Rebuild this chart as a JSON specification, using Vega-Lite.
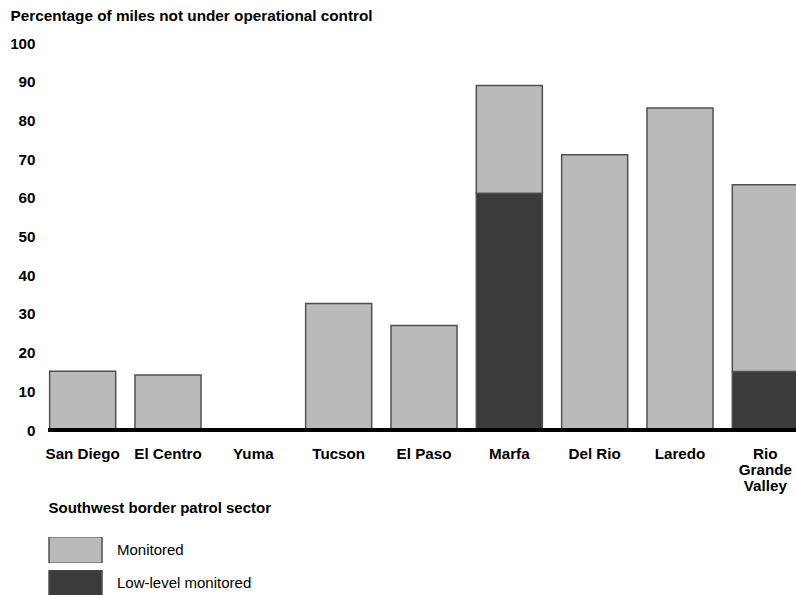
{
  "$schema": "https://vega.github.io/schema/vega-lite/v6.json",
  "width": 748,
  "height": 387,
  "autosize": {"type": "none"},
  "padding": {"left": 48, "top": 43, "right": 0, "bottom": 165},
  "background": "white",
  "config": {
    "view": {"stroke": null},
    "font": "Liberation Sans",
    "axis": {"labelFont": "Liberation Sans", "titleFont": "Liberation Sans", "labelColor": "black", "titleColor": "black", "labelOverlap": false}
  },
  "data": {
    "values": [
      {"sector": "San Diego", "status": "Monitored", "pct": 15.2},
      {"sector": "El Centro", "status": "Monitored", "pct": 14.2},
      {"sector": "Yuma", "status": "Monitored", "pct": 0},
      {"sector": "Tucson", "status": "Monitored", "pct": 32.7},
      {"sector": "El Paso", "status": "Monitored", "pct": 27},
      {"sector": "Marfa", "status": "Low-level monitored", "pct": 61.2},
      {"sector": "Marfa", "status": "Monitored", "pct": 27.8},
      {"sector": "Del Rio", "status": "Monitored", "pct": 71.1},
      {"sector": "Laredo", "status": "Monitored", "pct": 83.2},
      {"sector": "Rio Grande Valley", "status": "Low-level monitored", "pct": 15.1},
      {"sector": "Rio Grande Valley", "status": "Monitored", "pct": 48.3}
    ]
  },
  "layer": [
    {
      "mark": {"type": "bar", "stroke": "#505050", "strokeWidth": 1.5},
      "encoding": {
        "x": {
          "field": "sector",
          "type": "nominal",
          "sort": null,
          "scale": {"range": [-8, 760], "paddingInner": 0.226, "paddingOuter": 0.113},
          "axis": {
            "title": "Southwest border patrol sector",
            "titleFontSize": 15,
            "titleFontWeight": "bold",
            "titleAnchor": "start",
            "titleAlign": "left",
            "titleBaseline": "middle",
            "titleX": 0,
            "titleY": 77,
            "domain": false,
            "ticks": false,
            "labelAngle": 0,
            "labelFontSize": 15.2,
            "labelFontWeight": "bold",
            "labelPadding": 16,
            "labelLineHeight": 16,
            "labelOverlap": false,
            "labelExpr": "datum.value == 'Rio Grande Valley' ? split(datum.value, ' ') : datum.label"
          }
        },
        "y": {
          "field": "pct",
          "type": "quantitative",
          "stack": "zero",
          "scale": {"domain": [0, 100], "nice": false},
          "axis": {
            "title": "Percentage of miles not under operational control",
            "titleAngle": 0,
            "titleAlign": "left",
            "titleBaseline": "middle",
            "titleX": -38,
            "titleY": -28,
            "titleFontSize": 15.3,
            "titleFontWeight": "bold",
            "values": [0, 10, 20, 30, 40, 50, 60, 70, 80, 90, 100],
            "labelOverlap": false,
            "domain": false,
            "ticks": false,
            "grid": false,
            "labelFontSize": 15.2,
            "labelFontWeight": "bold",
            "labelPadding": 13
          }
        },
        "color": {
          "field": "status",
          "type": "nominal",
          "scale": {"domain": ["Monitored", "Low-level monitored"], "range": ["#bababa", "#3b3b3b"]},
          "legend": {
            "title": null,
            "orient": "none",
            "legendX": 0,
            "legendY": 494,
            "padding": 0,
            "symbolType": "M-1,-0.5H1V0.5H-1Z",
            "symbolSize": 2809,
            "clipHeight": 26,
            "rowPadding": 7,
            "labelOffset": 14,
            "labelFontSize": 15,
            "labelFont": "Liberation Sans",
            "labelColor": "black",
            "symbolStrokeColor": "#505050",
            "symbolStrokeWidth": 1.5,
            "symbolOpacity": 1
          }
        },
        "order": {"field": "status", "sort": "ascending"}
      }
    },
    {
      "mark": {"type": "rule", "color": "black", "strokeWidth": 4},
      "encoding": {
        "y": {
          "datum": 0,
          "type": "quantitative",
          "axis": {
            "title": "Percentage of miles not under operational control",
            "titleAngle": 0,
            "titleAlign": "left",
            "titleBaseline": "middle",
            "titleX": -38,
            "titleY": -28,
            "titleFontSize": 15.3,
            "titleFontWeight": "bold",
            "values": [0, 10, 20, 30, 40, 50, 60, 70, 80, 90, 100],
            "labelOverlap": false,
            "domain": false,
            "ticks": false,
            "grid": false,
            "labelFontSize": 15.2,
            "labelFontWeight": "bold",
            "labelPadding": 13
          }
        }
      }
    }
  ]
}
